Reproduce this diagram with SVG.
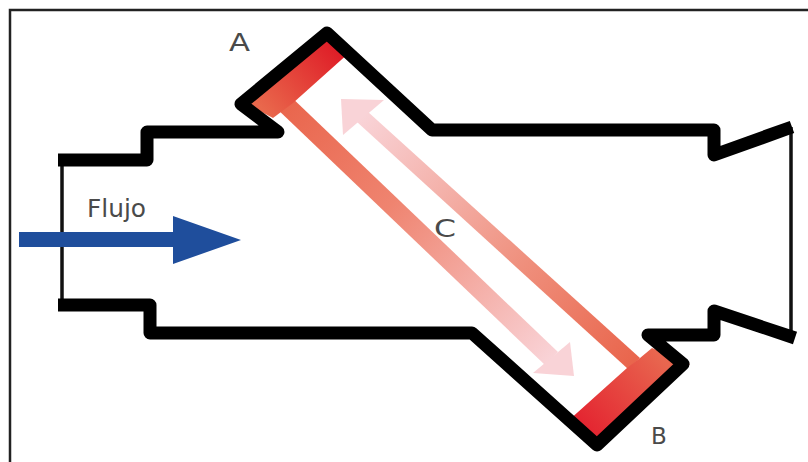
<svg xmlns="http://www.w3.org/2000/svg" width="808" height="462" viewBox="0 0 808 462">
<style>
.wall{fill:none;stroke:#000;stroke-width:13;stroke-linejoin:round;stroke-linecap:butt}
.thin{fill:none;stroke:#111;stroke-width:3.5}
.lbl{font-family:"DejaVu Sans","Liberation Sans",sans-serif;font-size:25px;fill:#4a4a4a}
.frame{fill:none;stroke:#222;stroke-width:2.5}
</style>
<defs>
<linearGradient id="gA" gradientUnits="userSpaceOnUse" x1="335" y1="50" x2="265" y2="112"><stop offset="0" stop-color="#df1f28"/><stop offset="1" stop-color="#e9684c"/></linearGradient>
<linearGradient id="gB" gradientUnits="userSpaceOnUse" x1="660" y1="357" x2="585" y2="425"><stop offset="0" stop-color="#e8664f"/><stop offset="1" stop-color="#e42631"/></linearGradient>
<linearGradient id="g1" gradientUnits="userSpaceOnUse" x1="283" y1="103" x2="551" y2="359"><stop offset="0" stop-color="#e9654c"/><stop offset="0.4" stop-color="#ef8470"/><stop offset="1" stop-color="#f9d3d7"/></linearGradient>
<linearGradient id="g2" gradientUnits="userSpaceOnUse" x1="362" y1="117" x2="633" y2="363"><stop offset="0" stop-color="#f9d3d7"/><stop offset="0.6" stop-color="#ef8f7c"/><stop offset="1" stop-color="#e9654c"/></linearGradient>
</defs>
<g id="frame"><path class="frame" d="M10 462V10H808"/></g>
<g id="filter-bands">
<polygon fill="url(#g1)" points="287,93 558,352 545,365 274,106"/>
<polygon fill="url(#gA)" points="327,36 350,52 293,103 273,118 248,105"/>
<polygon fill="url(#g2)" points="367,111 640,358 628,369 357,122"/>
<polygon fill="url(#gB)" points="568,421 627,368 640,358 652,348 690,364 597,450"/>
<polygon fill="#f9d3d7" points="341,99 384,100 343,135"/>
<polygon fill="#f9d3d7" points="574,376 533,373 570,342"/>
</g>
<g id="body">
<path class="thin" d="M62 160V305M791 127V337"/>
<path class="wall" d="M58 160H147V132H278L241 104L327 33L432 130H714V155L792 127"/>
<path class="wall" d="M58 305H150V333H472L597 445L683 364L648 335H714V311L795 338"/>
</g>
<g id="flow-arrow"><polygon fill="#1f4e9c" points="19,232 173,232 173,216 241,240 173,264 173,247 19,247"/></g>
<g id="labels">
<text class="lbl" x="87" y="217" style="font-size:24px" textLength="59" lengthAdjust="spacingAndGlyphs">Flujo</text>
<text class="lbl" x="229" y="51" textLength="21" lengthAdjust="spacingAndGlyphs">A</text>
<text class="lbl" x="651" y="444" style="font-size:23px">B</text>
<text class="lbl" x="434" y="237" textLength="22" lengthAdjust="spacingAndGlyphs">C</text>
</g>
</svg>
